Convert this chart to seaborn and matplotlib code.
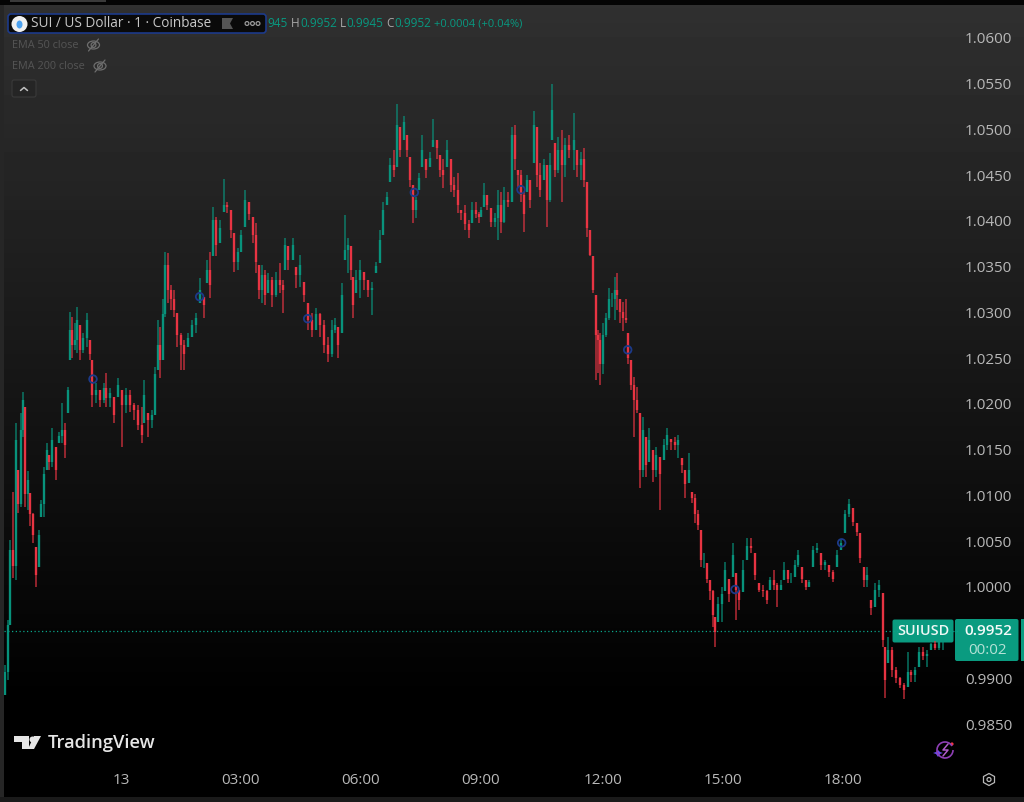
import numpy as np
import pandas as pd
import seaborn as sns
import matplotlib.pyplot as plt
from matplotlib.patches import Circle, Ellipse, FancyBboxPatch, Polygon, Rectangle, Arc
from matplotlib.lines import Line2D

######################## DATA ########################
# minutes from midnight of the 13th
candle_minute = [
    -174,-170,-166,-162,-158,-154,-150,-147,-144,-140,
    -136,-132,-128,-123,-120,-116,-111,-108,-104,-98,
    -93,-88,-84,-80,-76,-74,-69,-66,-62,-57,
    -51,-46,-44,-38,-32,-26,-22,-16,-10,-4,
    2,8,14,20,26,32,34,40,46,51,
    56,58,63,66,70,75,80,84,90,94,
    100,106,112,118,124,129,134,138,142,148,
    154,159,165,170,176,180,186,192,198,202,
    207,212,216,220,226,232,238,243,246,250,
    258,262,268,274,280,286,292,298,304,310,
    316,321,326,332,336,340,345,348,352,358,
    364,370,376,382,388,393,399,404,410,414,
    418,424,429,434,438,442,447,452,458,464,
    468,474,478,483,489,495,500,506,510,516,
    522,526,532,537,540,544,549,555,561,566,
    570,574,580,586,591,596,600,604,609,614,
    620,624,628,634,639,644,646,651,656,662,
    666,672,680,684,690,694,699,704,708,712,
    716,718,723,728,732,736,741,744,748,753,
    758,760,765,770,774,778,783,788,792,798,
    802,808,814,819,825,831,836,842,846,852,
    856,861,866,870,874,879,884,888,891,896,
    902,906,912,918,922,927,933,939,945,951,
    957,963,969,974,980,984,990,994,1000,1005,
    1011,1016,1022,1028,1032,1038,1044,1050,1056,1062,
    1068,1074,1080,1086,1092,1098,1104,1108,1114,1119,
    1125,1131,1137,1143,1146,1150,1156,1162,1168,1174,
    1180,1185,1191,1197,1203,1209,1215,1221,1227,1233,
]
candle_high = [
    .9915,.9964,1.0051,1.0104,1.0179,1.0128,1.0190,1.0213,1.0197,1.0126,
    1.0103,1.0081,1.0044,1.0062,1.0095,1.0131,1.0157,1.0144,1.0174,1.0153,
    1.0169,1.0201,1.0179,1.0218,1.0300,1.0295,1.0288,1.0306,1.0286,1.0277,
    1.0299,1.0270,1.0248,1.0223,1.0215,1.0223,1.0234,1.0217,1.0207,1.0228,
    1.0215,1.0217,1.0215,1.0201,1.0199,1.0197,1.0226,1.0190,1.0193,1.0240,
    1.0292,1.0284,1.0314,1.0366,1.0365,1.0330,1.0324,1.0299,1.0277,1.0270,
    1.0277,1.0292,1.0299,1.0337,1.0317,1.0357,1.0366,1.0415,1.0404,1.0401,
    1.0446,1.0421,1.0412,1.0387,1.0370,1.0390,1.0434,1.0420,1.0404,1.0398,
    1.0352,1.0352,1.0346,1.0343,1.0339,1.0344,1.0354,1.0335,1.0381,1.0372,
    1.0381,1.0350,1.0363,1.0333,1.0310,1.0299,1.0305,1.0299,1.0292,1.0273,
    1.0292,1.0294,1.0284,1.0332,1.0406,1.0381,1.0372,1.0339,1.0346,1.0357,
    1.0344,1.0335,1.0333,1.0355,1.0390,1.0420,1.0431,1.0469,1.0477,1.0528,
    1.0503,1.0514,1.0494,1.0470,1.0439,1.0426,1.0452,1.0494,1.0467,1.0475,
    1.0511,1.0488,1.0472,1.0467,1.0488,1.0467,1.0448,1.0452,1.0412,1.0417,
    1.0401,1.0420,1.0420,1.0410,1.0415,1.0441,1.0428,1.0414,1.0409,1.0434,
    1.0431,1.0437,1.0431,1.0502,1.0505,1.0456,1.0456,1.0431,1.0450,1.0445,
    1.0520,1.0502,1.0463,1.0467,1.0461,1.0474,1.0550,1.0485,1.0492,1.0499,
    1.0491,1.0494,1.0518,1.0477,1.0475,1.0480,1.0442,1.0390,1.0361,1.0319,
    1.0281,1.0277,1.0288,1.0299,1.0327,1.0321,1.0339,1.0343,1.0314,1.0311,
    1.0314,1.0277,1.0248,1.0229,1.0218,1.0190,1.0186,1.0164,1.0174,1.0150,
    1.0153,1.0142,1.0162,1.0174,1.0162,1.0164,1.0166,1.0141,1.0128,1.0146,
    1.0104,1.0101,1.0084,1.0062,1.0037,1.0026,1.0007,.9997,.9967,.9989,
    1.0000,1.0027,1.0009,1.0048,1.0015,.9997,1.0029,1.0053,1.0053,1.0037,
    1.0004,1.0002,.9997,1.0011,1.0018,1.0004,1.0007,1.0027,1.0018,1.0015,
    1.0029,1.0040,1.0022,1.0007,1.0007,1.0045,1.0048,1.0037,1.0029,1.0024,
    1.0018,1.0040,1.0051,1.0084,1.0096,1.0086,1.0070,1.0059,1.0022,1.0022,
    .9986,1.0004,1.0007,.9993,.9934,.9945,.9934,.9912,.9901,.9895,
    .9929,.9909,.9912,.9934,.9934,.9931,.9939,.9941,.9942,.9953,
]
candle_low = [
    .9882,.9898,.9958,1.0010,1.0007,1.0081,1.0087,1.0164,1.0087,1.0084,
    1.0066,1.0048,1.0000,1.0022,1.0076,1.0076,1.0128,1.0128,1.0131,1.0117,
    1.0157,1.0157,1.0141,1.0190,1.0248,1.0250,1.0259,1.0255,1.0248,1.0255,
    1.0262,1.0248,1.0197,1.0201,1.0196,1.0201,1.0197,1.0197,1.0179,1.0207,
    1.0153,1.0190,1.0191,1.0182,1.0171,1.0157,1.0179,1.0164,1.0174,1.0188,
    1.0237,1.0228,1.0248,1.0295,1.0310,1.0303,1.0295,1.0262,1.0237,1.0237,
    1.0262,1.0273,1.0277,1.0310,1.0294,1.0332,1.0316,1.0361,1.0361,1.0376,
    1.0410,1.0409,1.0381,1.0344,1.0346,1.0366,1.0393,1.0401,1.0376,1.0343,
    1.0314,1.0310,1.0308,1.0321,1.0306,1.0317,1.0321,1.0299,1.0346,1.0346,
    1.0357,1.0327,1.0328,1.0311,1.0281,1.0273,1.0281,1.0273,1.0255,1.0246,
    1.0251,1.0277,1.0250,1.0277,1.0357,1.0343,1.0335,1.0294,1.0321,1.0316,
    1.0324,1.0317,1.0297,1.0343,1.0354,1.0385,1.0417,1.0442,1.0448,1.0459,
    1.0470,1.0488,1.0470,1.0437,1.0398,1.0403,1.0434,1.0459,1.0447,1.0459,
    1.0481,1.0467,1.0448,1.0436,1.0459,1.0431,1.0426,1.0409,1.0401,1.0390,
    1.0381,1.0398,1.0403,1.0398,1.0404,1.0415,1.0412,1.0393,1.0393,1.0379,
    1.0387,1.0398,1.0415,1.0420,1.0456,1.0437,1.0420,1.0388,1.0431,1.0414,
    1.0463,1.0437,1.0426,1.0445,1.0393,1.0420,1.0488,1.0448,1.0452,1.0421,
    1.0448,1.0469,1.0456,1.0448,1.0445,1.0437,1.0382,1.0361,1.0321,1.0226,
    1.0234,1.0221,1.0232,1.0273,1.0292,1.0306,1.0292,1.0303,1.0288,1.0279,
    1.0288,1.0244,1.0215,1.0164,1.0190,1.0108,1.0120,1.0120,1.0136,1.0115,
    1.0120,1.0084,1.0139,1.0150,1.0150,1.0150,1.0141,1.0124,1.0097,1.0113,
    1.0092,1.0070,1.0062,1.0022,1.0020,1.0004,.9986,.9956,.9934,.9962,
    .9961,.9995,.9983,1.0011,.9964,.9975,.9994,1.0029,1.0037,1.0007,
    .9994,.9989,.9981,.9997,.9997,.9978,.9997,1.0007,1.0004,1.0004,
    1.0011,1.0022,1.0004,.9997,1.0000,1.0022,1.0037,1.0018,1.0018,1.0011,
    1.0005,1.0022,1.0040,1.0059,1.0076,1.0066,1.0055,1.0026,1.0000,1.0000,
    .9969,.9978,.9989,.9934,.9878,.9917,.9901,.9895,.9889,.9877,
    .9890,.9896,.9896,.9912,.9920,.9912,.9931,.9931,.9931,.9931,
]
candle_close = [
    .9907,.9958,1.0040,1.0023,1.0160,1.0090,1.0171,1.0204,1.0101,1.0117,
    1.0079,1.0057,1.0013,1.0057,1.0090,1.0123,1.0150,1.0136,1.0160,1.0128,
    1.0165,1.0171,1.0155,1.0215,1.0281,1.0264,1.0270,1.0292,1.0259,1.0272,
    1.0292,1.0254,1.0210,1.0215,1.0204,1.0217,1.0206,1.0212,1.0188,1.0221,
    1.0199,1.0210,1.0199,1.0193,1.0177,1.0166,1.0210,1.0182,1.0188,1.0232,
    1.0264,1.0248,1.0298,1.0352,1.0324,1.0314,1.0303,1.0275,1.0264,1.0254,
    1.0272,1.0286,1.0294,1.0324,1.0308,1.0346,1.0330,1.0401,1.0374,1.0392,
    1.0417,1.0415,1.0390,1.0355,1.0366,1.0385,1.0423,1.0407,1.0385,1.0355,
    1.0324,1.0341,1.0319,1.0335,1.0319,1.0335,1.0330,1.0324,1.0374,1.0357,
    1.0374,1.0341,1.0352,1.0319,1.0292,1.0281,1.0298,1.0286,1.0264,1.0254,
    1.0281,1.0286,1.0264,1.0319,1.0368,1.0374,1.0346,1.0308,1.0335,1.0346,
    1.0335,1.0324,1.0326,1.0351,1.0379,1.0412,1.0426,1.0461,1.0456,1.0505,
    1.0477,1.0508,1.0477,1.0445,1.0412,1.0423,1.0447,1.0477,1.0456,1.0469,
    1.0488,1.0479,1.0456,1.0450,1.0477,1.0439,1.0434,1.0417,1.0409,1.0396,
    1.0390,1.0412,1.0407,1.0404,1.0412,1.0428,1.0417,1.0399,1.0403,1.0417,
    1.0399,1.0423,1.0421,1.0494,1.0467,1.0450,1.0428,1.0407,1.0445,1.0423,
    1.0505,1.0450,1.0434,1.0461,1.0423,1.0461,1.0521,1.0456,1.0477,1.0461,
    1.0483,1.0477,1.0488,1.0461,1.0467,1.0445,1.0392,1.0363,1.0324,1.0275,
    1.0270,1.0243,1.0275,1.0294,1.0314,1.0314,1.0324,1.0319,1.0300,1.0294,
    1.0292,1.0250,1.0221,1.0204,1.0193,1.0128,1.0171,1.0133,1.0160,1.0128,
    1.0144,1.0123,1.0155,1.0166,1.0158,1.0155,1.0160,1.0133,1.0112,1.0128,
    1.0097,1.0079,1.0068,1.0029,1.0029,1.0009,.9995,.9969,.9951,.9981,
    .9992,1.0018,.9992,1.0035,.9997,.9986,1.0018,1.0045,1.0042,1.0013,
    .9997,.9995,.9986,1.0007,1.0002,.9997,1.0002,1.0018,1.0009,1.0009,
    1.0024,1.0035,1.0009,1.0000,1.0005,1.0040,1.0042,1.0024,1.0027,1.0016,
    1.0009,1.0035,1.0048,1.0079,1.0090,1.0071,1.0060,1.0031,1.0007,1.0013,
    .9977,.9997,1.0002,.9942,.9898,.9931,.9909,.9900,.9893,.9887,
    .9907,.9904,.9909,.9929,.9924,.9926,.9937,.9933,.9940,.9952,
]

# blue event dots sitting on the price line
dot_minute = [-42, 118, 280, 440, 600, 760, 921, 1081]
dot_price = [1.0227, 1.0317, 1.0293, 1.0431, 1.0434, 1.0259, 0.9997, 1.0048]

price_ticks = [0.9850, 0.9900, 1.0000, 1.0050, 1.0100, 1.0150, 1.0200, 1.0250,
               1.0300, 1.0350, 1.0400, 1.0450, 1.0500, 1.0550, 1.0600]
time_ticks = [0, 180, 360, 540, 723, 903, 1083]
time_labels = ['13', '03:00', '06:00', '09:00', '12:00', '15:00', '18:00']
last_price = 0.9952

######################## HELPERS ########################
UP = '#089981'
DOWN = '#F23645'
W, H = 1024, 802


def px(x, y):
    return x / W, 1 - y / H


def label(x, y, s, color='#d1d4dc', size=9.5, **kw):
    fx, fy = px(x, y)
    kw.setdefault('va', 'center')
    fig.text(fx, fy, s, color=color, fontsize=size, **kw)


def fig_patch(patch):
    patch.set_transform(overlay_tr)
    fig.add_artist(patch)


sns.set_style('dark')
plt.rcParams['font.family'] = ['Open Sans', 'DejaVu Sans']

fig = plt.figure(figsize=(W / 100, H / 100), dpi=100, facecolor='black')

######## background gradient ########
bg = fig.add_axes([0, 0, 1, 1], zorder=0)
shade = np.clip((700 - np.arange(H)) / 695 * 48, 0, 48)
shade[:5] = 4
bg.imshow(shade[:, None], cmap='gray', vmin=0, vmax=255, aspect='auto')
bg.axis('off')

# pixel-based overlay for the screen furniture
overlay_tr = bg.transData

######## candles ########
ax = fig.add_axes([4 / W, 1 - 765 / H, 954 / W, 751 / H], zorder=1)
ax.patch.set_alpha(0)

df = pd.DataFrame({'minute': candle_minute, 'high': candle_high,
                   'low': candle_low, 'close': candle_close})
df['open'] = df['close'].shift(1).fillna(df['low'])
df['open'] = df[['open', 'low']].max(axis=1)
df['open'] = df[['open', 'high']].min(axis=1)
df['dir'] = np.where(df['close'] >= df['open'], 'up', 'down')
df['candle'] = df.index

wicks = df.melt(id_vars=['candle', 'minute', 'dir'], value_vars=['low', 'high'], value_name='price')
bodies = df.melt(id_vars=['candle', 'minute', 'dir'], value_vars=['open', 'close'], value_name='price')
palette = {'up': UP, 'down': DOWN}

sns.lineplot(data=wicks, x='minute', y='price', hue='dir', units='candle', estimator=None,
             palette=palette, legend=False, linewidth=1.1, alpha=0.75, sort=False,
             solid_capstyle='butt', ax=ax)
sns.lineplot(data=bodies, x='minute', y='price', hue='dir', units='candle', estimator=None,
             palette=palette, legend=False, linewidth=1.7, alpha=0.9, sort=False,
             solid_capstyle='butt', ax=ax)
ax.axhline(last_price, color='#0aa58a', linewidth=0.9, linestyle=(0, (1, 2)), zorder=1)
sns.scatterplot(x=dot_minute, y=dot_price, s=30, facecolor='none', edgecolor='#1c3a8a',
                linewidth=1.3, ax=ax, zorder=5)

ax.set_xlim(-175.5, 1255.5)
ax.set_ylim(0.98052, 1.0626)
ax.set_xticks(time_ticks, time_labels)
ax.set_yticks(price_ticks, [f'{p:.4f}' for p in price_ticks])
ax.yaxis.tick_right()
ax.tick_params(axis='y', length=0, pad=5, labelsize=11, labelcolor='#b8b8b8')
ax.tick_params(axis='x', length=0, pad=5.5, labelsize=11, labelcolor='#b8b8b8')
ax.set_xlabel('')
ax.set_ylabel('')
ax.grid(False)
sns.despine(ax=ax, left=True, bottom=True, right=True, top=True)

######## screen furniture, in pixels ########
top = fig.add_axes([0, 0, 1, 1], zorder=3)
top.set_xlim(0, W)
top.set_ylim(H, 0)
top.axis('off')
overlay_tr = top.transData

# left and bottom strips
fig_patch(Rectangle((0, 5), 3.5, H - 5, facecolor='#262626', edgecolor='none'))
fig_patch(Rectangle((0, 797), W, 5, facecolor='#1a1a1a', edgecolor='none'))
fig_patch(Rectangle((10, 0), 96, 1.5, facecolor='#3a3a3a', edgecolor='none'))

# symbol box
fig_patch(FancyBboxPatch((8, 14), 258, 19, boxstyle='round,pad=0,rounding_size=3',
                         facecolor='#0a0a0a', edgecolor='#1c3a8a', linewidth=1.2))
fig_patch(Circle((19.5, 24), 8, facecolor='#f0f0f0', edgecolor='none'))
fig_patch(Ellipse((19.5, 24.5), 6, 8, facecolor='#4da2f0', edgecolor='none'))
label(31, 23.5, 'SUI / US Dollar · 1 · Coinbase', color='#c8c8c8', size=9.8)
fig_patch(Polygon([(222, 18), (233, 18), (230, 23.5), (233, 29), (222, 29)], facecolor='#555555', edgecolor='none'))
for dx in (247, 252.5, 258):
    fig_patch(Circle((dx, 23.5), 1.9, facecolor='none', edgecolor='#9a9a9a', linewidth=0.9))

# OHLC readout
label(267, 23.5, '945', color=UP, size=8.5)
label(291, 23.5, 'H', color='#a8a8a8', size=8.5)
label(300, 23.5, '0.9952', color=UP, size=8.5)
label(340, 23.5, 'L', color='#a8a8a8', size=8.5)
label(346, 23.5, '0.9945', color=UP, size=8.5)
label(386, 23.5, 'C', color='#a8a8a8', size=8.5)
label(394, 23.5, '0.9952', color=UP, size=8.5)
label(434, 23.5, '+0.0004 (+0.04%)', color=UP, size=8.0)

# hidden indicators
label(11.5, 45.5, 'EMA 50 close', color='#555555', size=7.8)
label(11.5, 66.5, 'EMA 200 close', color='#555555', size=7.8)
for ex, ey in ((93.5, 45), (100, 66)):
    fig_patch(Ellipse((ex, ey), 12, 8, facecolor='none', edgecolor='#6e6e6e', linewidth=0.9))
    fig_patch(Circle((ex, ey), 2.4, facecolor='none', edgecolor='#6e6e6e', linewidth=0.9))
    top.add_line(Line2D([ex - 5, ex + 5], [ey + 6, ey - 6], color='#6e6e6e', linewidth=0.9))
fig_patch(FancyBboxPatch((12, 80), 24, 17, boxstyle='round,pad=0,rounding_size=2',
                         facecolor='#252525', edgecolor='#3a3a3a', linewidth=0.8))
top.add_line(Line2D([20.5, 24, 27.5], [90.5, 87.5, 90.5], color='#c0c0c0', linewidth=1.1))

# price tags
fig_patch(FancyBboxPatch((892.5, 619.5), 61, 23, boxstyle='round,pad=0,rounding_size=2',
                         facecolor='#0a9b80', edgecolor='none'))
fig_patch(FancyBboxPatch((955, 619), 63.5, 42, boxstyle='round,pad=0,rounding_size=2',
                         facecolor='#0a9b80', edgecolor='none'))
fig_patch(Rectangle((1021, 619), 3, 42, facecolor='#0a9b80', edgecolor='none'))
label(923, 631, 'SUIUSD', color='#eef8f5', size=10.4, ha='center', fontweight='semibold')
label(988, 631, '0.9952', color='#f4faf8', size=11, ha='center', fontweight='semibold')
label(988, 650, '00:02', color='#b5e2d6', size=11, ha='center')

# TradingView mark
logo = '#e6e6e6'
fig_patch(Polygon([(14, 736), (29, 736), (29, 749), (22, 749), (22, 742), (14, 742)], facecolor=logo, edgecolor='none'))
fig_patch(Circle((32.5, 739.5), 3, facecolor=logo, edgecolor='none'))
fig_patch(Polygon([(34, 749), (28, 749), (34, 736), (41, 736)], facecolor=logo, edgecolor='none'))
label(48, 742.5, 'TradingView', color=logo, size=13.2, fontweight='semibold')

# bottom corner icons
top.add_patch(Arc((945, 750), 16, 16, theta1=0, theta2=330, color='#8e3fb5', linewidth=1.2))
top.add_line(Line2D([948, 943, 948, 943], [744, 750, 750, 756], color='#b05cc9', linewidth=1.1))
fig_patch(Polygon([(938, 750), (936, 752), (933, 753), (936, 754), (938, 757), (940, 754), (943, 753), (940, 752)],
                  facecolor='#6a4cf0', edgecolor='none'))
fig_patch(Circle((952, 744), 1.6, facecolor='#f23645', edgecolor='none'))
fig_patch(Polygon([(989, 773.5), (994.5, 776.5), (994.5, 782.5), (989, 785.5), (983.5, 782.5), (983.5, 776.5)],
                  facecolor='none', edgecolor='#b8b8b8', linewidth=0.9))
fig_patch(Circle((989, 779.5), 2, facecolor='none', edgecolor='#b8b8b8', linewidth=0.9))

fig.savefig('out.png', dpi=100, facecolor='black')
